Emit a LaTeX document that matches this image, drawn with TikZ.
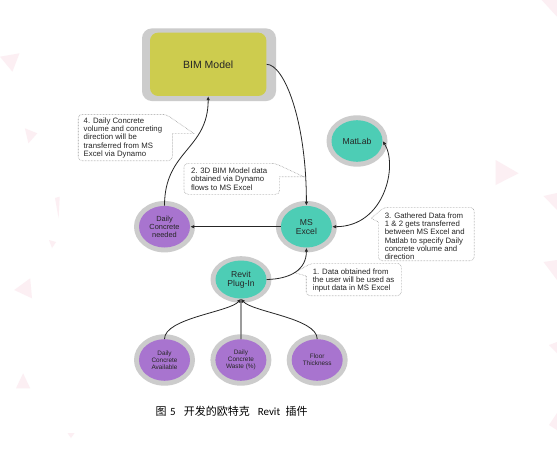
\documentclass[tikz,border=0pt]{standalone}
\usepackage{fontspec}
\setmainfont{Liberation Sans}
\newfontfamily\cjk{Noto Sans CJK SC}
\newfontfamily\capfont{Carlito}
\usetikzlibrary{shapes.geometric,arrows.meta}
\definecolor{ringgray}{HTML}{CCCCCC}
\definecolor{bimyellow}{HTML}{CDCC4E}
\definecolor{tealc}{HTML}{4DCDB5}
\definecolor{purplec}{HTML}{A874CF}
\definecolor{calloutgray}{HTML}{A0A0A0}
\definecolor{decopink}{HTML}{FCEFF3}
\begin{document}
\begin{tikzpicture}[x=1pt,y=-1pt,
  ring/.style={ellipse, fill=ringgray, minimum width=61pt, minimum height=51.4pt, inner sep=0pt},
  bubble/.style={ellipse, inner sep=0pt, minimum width=51pt, minimum height=41.6pt, align=center, text=black!85},
  tealbubble/.style={bubble, fill=tealc},
  purplebubble/.style={bubble, fill=purplec},
  midfont/.style={font=\fontsize{8.6}{9.3}\selectfont},
  smallfont/.style={font=\fontsize{7.4}{7.8}\selectfont},
  tinyfont/.style={font=\fontsize{6.4}{7.1}\selectfont},
  link/.style={draw=black!85, line width=0.8pt, -{Latex[length=4pt,width=3.5pt]}},
  callout/.style={draw=calloutgray, dash pattern=on 0.6pt off 0.9pt, line width=0.6pt, fill=white},
  callouttext/.style={anchor=north west, inner sep=0pt, align=left, font=\fontsize{7.8}{8.33}\selectfont, text=black!85},
  deco/.style={fill=decopink, draw=none},
]
\useasboundingbox[fill=white] (0,0) rectangle (557,448);

% faint background decorations
\fill[deco] (0,56.7) -- (19.5,53.3) -- (12.4,71.7) -- cycle;
\fill[deco] (24.9,128.3) -- (37.3,133.3) -- (28.4,143.3) -- cycle;
\fill[deco] (55,198) -- (59.7,196.7) -- (58.6,218.3) -- cycle;
\fill[deco] (49,240) -- (56,242) -- (52,248) -- cycle;
\fill[deco] (14.2,290) -- (30.2,278.3) -- (32,298.3) -- cycle;
\fill[deco] (23.1,373.3) -- (30.2,388.3) -- (16,388.3) -- cycle;
\fill[deco] (495.6,160) -- (518.6,173.3) -- (495.6,185) -- cycle;
\fill[deco] (541.7,0) -- (557,0) -- (557,16.7) -- cycle;
\fill[deco] (543.5,196) -- (557,193) -- (557,210) -- cycle;
\fill[deco] (543.5,262) -- (557,260) -- (557,280) -- cycle;
\fill[deco] (549,345) -- (557,342) -- (557,353) -- cycle;
\fill[deco] (549,425) -- (557,413) -- (557,430) -- cycle;
\fill[deco] (67.5,433) -- (74.6,433) -- (71,438) -- cycle;

% callouts
\draw[callout, rounded corners=4pt] (78.2,114.3) -- (166,114.3) [sharp corners] -- (193.6,133.3) -- (172.3,133.3) [rounded corners=4pt] -- (172.3,160.7) -- (78.2,160.7) -- cycle;
\node[callouttext] (c4) at (83.5,117.2) {4. Daily Concrete\\volume and concreting\\direction will be\\transferred from MS\\Excel via Dynamo};

\draw[callout, rounded corners=4pt] (184,163.3) -- (275,163.3) [sharp corners] -- (303.7,176.7) -- (279.6,176.7) [rounded corners=4pt] -- (279.6,194.3) -- (184,194.3) -- cycle;
\node[callouttext] (c2) at (190.8,167.5) {2. 3D BIM Model data\\obtained via Dynamo\\flows to MS Excel};

\draw[callout, rounded corners=4pt] (474.2,207.3) -- (384,207.3) [sharp corners] -- (371.2,218.3) -- (378.3,222) [rounded corners=4pt] -- (378.3,260.7) -- (474.2,260.7) -- cycle;
\node[callouttext] (c3) at (384.7,212.2) {3. Gathered Data from\\1 \& 2 gets transferred\\between MS Excel and\\Matlab to specify Daily\\concrete volume and\\direction};

\draw[callout, rounded corners=4pt] (401.4,263.3) -- (311,263.3) [sharp corners] -- (294.8,272.7) -- (306.2,276) [rounded corners=4pt] -- (306.2,295.7) -- (401.4,295.7) -- cycle;
\node[callouttext] (c1) at (312.6,268.2) {1. Data obtained from\\the user will be used as\\input data in MS Excel};

% BIM model
\node[rectangle, rounded corners=10pt, fill=ringgray, minimum width=134pt, minimum height=72.7pt, inner sep=0pt] (bimo) at (209,64.7) {};
\node[rectangle, rounded corners=8pt, fill=bimyellow, minimum width=116.4pt, minimum height=63.3pt, inner sep=0pt, text=black!85, font=\fontsize{10.5}{12}\selectfont] (bim) at (208.2,64.3) {BIM Model};

% ellipse nodes
\node[ring] (dcno) at (164.5,226.7) {};
\node[purplebubble, smallfont] (dcn) at (164.5,226.7) {Daily\\Concrete\\needed};

\node[ring] (excelo) at (306.4,226.7) {};
\node[tealbubble, midfont] (excel) at (306.4,226.7) {MS\\Excel};

\node[ring] (matlabo) at (357,141) {};
\node[tealbubble, midfont] (matlab) at (357,141) {MatLab};

\node[ring, minimum height=46.6pt] (revito) at (241,279.5) {};
\node[tealbubble, minimum height=38pt, midfont] (revit) at (241,279.5) {Revit\\Plug-In};

\node[ring] (dcao) at (164.5,360) {};
\node[purplebubble, tinyfont] (dca) at (164.5,360) {Daily\\Concrete\\Available};

\node[ring] (wasteo) at (240.9,360) {};
\node[purplebubble, tinyfont] (waste) at (240.9,360) {Daily\\Concrete\\Waste (\%)};

\node[ring] (flooro) at (317.2,360) {};
\node[purplebubble, tinyfont] (floor) at (317.2,360) {Floor\\Thickness};

% connectors
\draw[link] (bim.east) .. controls (284,64.3) and (306.4,120) .. (excel.north);
\draw[link] (dcn.north) .. controls (164.5,150) and (208.2,150) .. (bim.south);
\draw[link] (excel.west) -- (dcn.east);
\draw[link, {Latex[length=4pt,width=3.5pt]}-{Latex[length=4pt,width=3.5pt]}] (excel.east) .. controls (385,226.7) and (398,165) .. (matlab.east);
\draw[link] (revit.east) .. controls (290,279) and (306.4,270) .. (excel.south);
\draw[link] (dca.north) .. controls (164.5,318) and (230,312) .. (revit.south);
\draw[link, draw=black!60, line width=1.2pt] (waste.north) -- (revit.south);
\draw[link] (floor.north) .. controls (317.2,318) and (252,312) .. (revit.south);

% caption
\node[font=\fontsize{11}{13}\selectfont, text=black] (caption) at (231.7,411) {\cjk 图\hspace{3.5pt}{\capfont 5}\hspace{8pt}开发的欧特克\hspace{8pt}{\capfont Revit}\hspace{5.5pt}插件};
\end{tikzpicture}
\end{document}
